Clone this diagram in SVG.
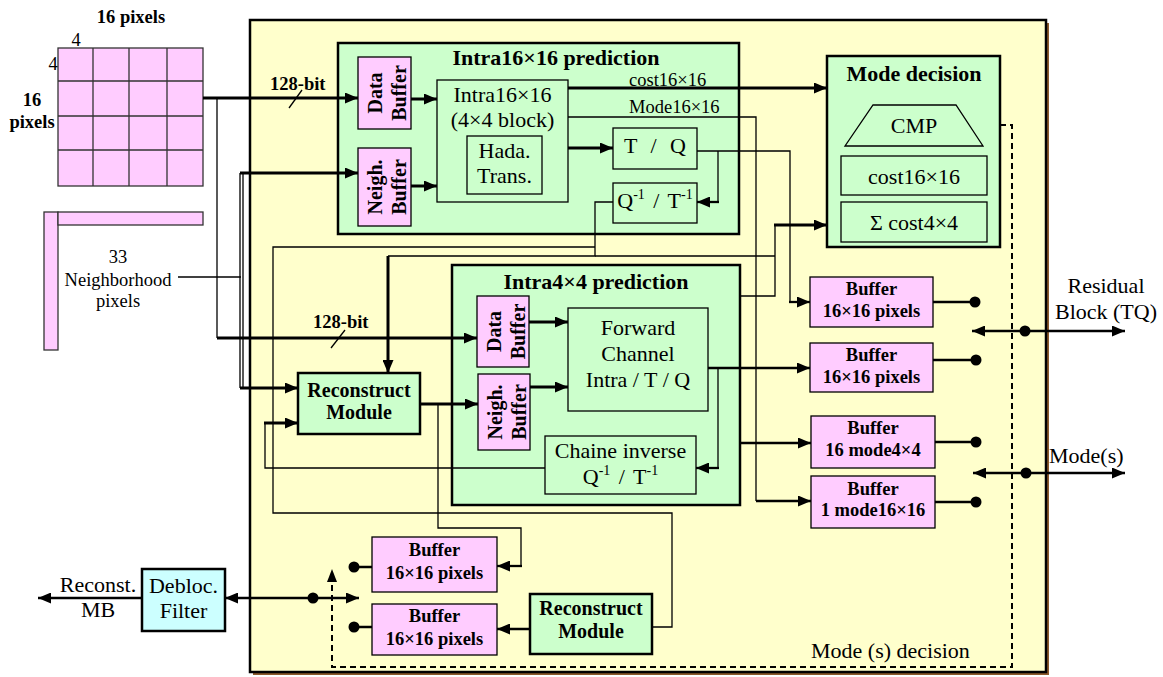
<svg xmlns="http://www.w3.org/2000/svg" width="1163" height="677" viewBox="0 0 1163 677">
<defs>
<style>
text{font-family:"Liberation Serif","Times New Roman",serif;fill:#000}
.r22{font-size:22px}
.b22{font-size:22px;font-weight:bold}
.b20{font-size:20px;font-weight:bold}
.b18{font-size:18.5px;font-weight:bold}
.r18{font-size:18.5px}
.c{text-anchor:middle}
.frame{fill:#ffffcc;stroke:#000;stroke-width:2.5}
.green{fill:#ccffcc;stroke:#000;stroke-width:2.5}
.greenThin{fill:#ccffcc;stroke:#000;stroke-width:1.3}
.pink{fill:#ffccff;stroke:#000;stroke-width:1.3}
.cyan{fill:#ccffff;stroke:#000;stroke-width:2.5}
.grid{fill:#ffccff;stroke:#333;stroke-width:1.3}
.thin{fill:none;stroke:#000;stroke-width:1.3}
.thick{fill:none;stroke:#000;stroke-width:3}
.med{fill:none;stroke:#000;stroke-width:2.3}
.dash{fill:none;stroke:#000;stroke-width:2;stroke-dasharray:6 4}
.arr{marker-end:url(#ah)}
.bi{marker-start:url(#ahs);marker-end:url(#ah)}
</style>
<marker id="ah" markerUnits="userSpaceOnUse" markerWidth="13" markerHeight="11" refX="13" refY="5.5" orient="auto"><path d="M0,0 L13,5.5 L0,11 z" fill="#000"/></marker>
<marker id="ahs" markerUnits="userSpaceOnUse" markerWidth="13" markerHeight="11" refX="13" refY="5.5" orient="auto-start-reverse"><path d="M0,0 L13,5.5 L0,11 z" fill="#000"/></marker>
</defs>

<rect x="0" y="0" width="1163" height="677" fill="#fff"/>

<!-- main frame -->
<g id="frame">
<rect x="253" y="23" width="796" height="652" fill="#8b5a2b"/>
<rect class="frame" x="250" y="20" width="796" height="652"/>
</g>

<!-- 16x16 pixel block -->
<g id="block16">
<rect class="grid" x="58" y="48" width="145" height="138"/>
<path class="grid" fill="none" d="M93,48 V186 M129,48 V186 M167,48 V186 M58,81 H203 M58,116 H203 M58,150 H203"/>
<text class="b18 c" x="131" y="23">16 pixels</text>
<text class="r18 c" x="76" y="46">4</text>
<text class="r18 c" x="53" y="70">4</text>
<text class="b18 c" x="32" y="106">16</text>
<text class="b18 c" x="32" y="128">pixels</text>
</g>

<!-- neighborhood pixels -->
<g id="neighborhood">
<rect class="grid" x="44" y="212" width="14" height="138"/>
<rect class="grid" x="58" y="212" width="145" height="13"/>
<text class="r18 c" x="118" y="263">33</text>
<text class="r18 c" x="118" y="286">Neighborhood</text>
<text class="r18 c" x="118" y="307">pixels</text>
</g>

<!-- Intra16x16 prediction -->
<g id="intra16">
<rect class="green" x="338" y="43" width="401" height="191"/>
<text class="b22 c" x="556" y="65">Intra16×16 prediction</text>
</g>
<g id="intra16-data-buffer">
<rect class="pink" x="358" y="57" width="53" height="72"/>
<text class="b20 c" transform="translate(382,93) rotate(-90)">Data</text>
<text class="b20 c" transform="translate(406,93) rotate(-90)">Buffer</text>
</g>
<g id="intra16-neigh-buffer">
<rect class="pink" x="358" y="148" width="53" height="78"/>
<text class="b20 c" transform="translate(382,187) rotate(-90)">Neigh.</text>
<text class="b20 c" transform="translate(406,187) rotate(-90)">Buffer</text>
</g>
<g id="intra16-core">
<rect class="greenThin" x="437" y="80" width="131" height="122"/>
<text class="r22 c" x="502.5" y="102">Intra16×16</text>
<text class="r22 c" x="502.5" y="127">(4×4 block)</text>
</g>
<g id="hada">
<rect class="greenThin" x="467" y="136" width="75" height="58"/>
<text class="r22 c" x="504.5" y="158">Hada.</text>
<text class="r22 c" x="504.5" y="183">Trans.</text>
</g>
<g id="tq16">
<rect class="greenThin" x="613" y="128" width="84" height="41"/>
<text class="r22 c" x="655" y="153" word-spacing="8">T / Q</text>
</g>
<g id="iqt16">
<rect class="greenThin" x="613" y="183" width="84" height="40"/>
<text class="r22 c" x="655" y="208" word-spacing="3">Q<tspan font-size="14" dy="-9">-1</tspan><tspan dy="9"> / T</tspan><tspan font-size="14" dy="-9">-1</tspan></text>
</g>

<!-- Mode decision -->
<g id="mode-decision">
<rect class="green" x="827" y="56" width="173" height="191"/>
<text class="b22 c" x="914" y="81">Mode decision</text>
<path class="greenThin" d="M873,105 H956 L983,146 H845 Z"/>
<text class="r22 c" x="914" y="133">CMP</text>
<rect class="greenThin" x="841" y="156" width="146" height="39"/>
<text class="r22 c" x="914" y="184">cost16×16</text>
<rect class="greenThin" x="841" y="202" width="146" height="40"/>
<text class="r22 c" x="914" y="230">Σ cost4×4</text>
</g>

<!-- Intra4x4 prediction -->
<g id="intra4">
<rect class="green" x="452" y="265" width="288" height="240"/>
<text class="b22 c" x="596" y="289">Intra4×4 prediction</text>
</g>
<g id="intra4-data-buffer">
<rect class="pink" x="477" y="296" width="52" height="71"/>
<text class="b20 c" transform="translate(501,331.5) rotate(-90)">Data</text>
<text class="b20 c" transform="translate(525,331.5) rotate(-90)">Buffer</text>
</g>
<g id="intra4-neigh-buffer">
<rect class="pink" x="478" y="374" width="52" height="76"/>
<text class="b20 c" transform="translate(502,412) rotate(-90)">Neigh.</text>
<text class="b20 c" transform="translate(526,412) rotate(-90)">Buffer</text>
</g>
<g id="forward-channel">
<rect class="greenThin" x="568" y="308" width="140" height="103"/>
<text class="r22 c" x="638" y="335">Forward</text>
<text class="r22 c" x="638" y="361">Channel</text>
<text class="r22 c" x="638" y="387">Intra / T / Q</text>
</g>
<g id="chaine-inverse">
<rect class="greenThin" x="545" y="436" width="151" height="58"/>
<text class="r22 c" x="620.5" y="458">Chaine inverse</text>
<text class="r22 c" x="620.5" y="484" word-spacing="3">Q<tspan font-size="14" dy="-9">-1</tspan><tspan dy="9"> / T</tspan><tspan font-size="14" dy="-9">-1</tspan></text>
</g>

<!-- Reconstruct modules -->
<g id="reconstruct-1">
<rect class="green" x="298" y="373" width="122" height="61"/>
<text class="b20 c" x="359" y="397">Reconstruct</text>
<text class="b20 c" x="359" y="419">Module</text>
</g>
<g id="reconstruct-2">
<rect class="green" x="530" y="594" width="122" height="60"/>
<text class="b20 c" x="591" y="615">Reconstruct</text>
<text class="b20 c" x="591" y="638">Module</text>
</g>

<!-- Right buffers -->
<g id="buffer-res-16">
<rect class="pink" x="810" y="277" width="123" height="50"/>
<text class="b18 c" x="871.5" y="295">Buffer</text>
<text class="b18 c" x="871.5" y="317">16×16 pixels</text>
</g>
<g id="buffer-res-4">
<rect class="pink" x="810" y="343" width="123" height="49"/>
<text class="b18 c" x="871.5" y="361">Buffer</text>
<text class="b18 c" x="871.5" y="383">16×16 pixels</text>
</g>
<g id="buffer-mode4">
<rect class="pink" x="811" y="416" width="124" height="52"/>
<text class="b18 c" x="873" y="434">Buffer</text>
<text class="b18 c" x="873" y="456">16 mode4×4</text>
</g>
<g id="buffer-mode16">
<rect class="pink" x="811" y="476" width="124" height="52"/>
<text class="b18 c" x="873" y="495">Buffer</text>
<text class="b18 c" x="873" y="516">1 mode16×16</text>
</g>

<!-- Bottom buffers -->
<g id="buffer-rec-1">
<rect class="pink" x="372" y="537" width="125" height="55"/>
<text class="b18 c" x="434.5" y="556">Buffer</text>
<text class="b18 c" x="434.5" y="579">16×16 pixels</text>
</g>
<g id="buffer-rec-2">
<rect class="pink" x="372" y="604" width="125" height="51"/>
<text class="b18 c" x="434.5" y="622">Buffer</text>
<text class="b18 c" x="434.5" y="645">16×16 pixels</text>
</g>

<!-- Deblocking filter -->
<g id="debloc">
<rect class="cyan" x="142" y="569" width="83" height="62"/>
<text class="r22 c" x="183.5" y="593">Debloc.</text>
<text class="r22 c" x="183.5" y="618">Filter</text>
</g>

<!-- connectors -->
<g id="connectors">
<path class="thick arr" d="M203,98 H358"/>
<path class="thin" d="M217,98 V338"/>
<path class="thick arr" d="M217,338 H477"/>
<path class="thin" d="M289,108 L302,90"/>
<path class="thin" d="M331,348 L345,330"/>
<text class="b18" x="270" y="90">128-bit</text>
<text class="b18" x="313" y="328">128-bit</text>

<path class="thin" d="M178,277 H241"/>
<path class="thin" d="M240,173 V388 M243,173 V388"/>
<path class="thick arr" d="M240,173 H358"/>
<path class="thick arr" d="M240,388 H298"/>

<path class="thick arr" d="M411,99 H437"/>
<path class="thick arr" d="M411,186 H437"/>
<path class="thick arr" d="M568,148 H613"/>
<path class="thick arr" d="M568,88 H827"/>
<text class="r18" x="629" y="86">cost16×16</text>
<path class="thin" d="M568,117 H756 V501"/>
<path class="med arr" d="M756,501 H811"/>
<text class="r18" x="629" y="113">Mode16×16</text>
<path class="thin" d="M697,151 H790 V302"/>
<path class="med arr" d="M789,302 H810"/>
<path class="thin" d="M718,151 V202"/>
<path class="med arr" d="M719,202 H697"/>

<path class="thin" d="M613,202 H595 V256 H388"/>
<path class="thin" d="M595,256 H775"/>
<path class="thick arr" d="M388,256 V373"/>
<path class="thin" d="M595,247 H273 V513 H672 V627 H652"/>

<path class="thin" d="M739,296 H775 V225"/>
<path class="thick arr" d="M774,225 H827"/>
<path class="thick arr" d="M529,322 H568"/>
<path class="thick arr" d="M530,387 H568"/>
<path class="med arr" d="M708,368 H810"/>
<path class="thin" d="M718,368 V468"/>
<path class="med arr" d="M719,468 H696"/>
<path class="med arr" d="M739,443 H811"/>

<path class="thin" d="M545,468 H265 V423"/>
<path class="thick arr" d="M264,423 H298"/>

<path class="thick arr" d="M420,404 H478"/>
<path class="thin" d="M438,404 V528 H521 V566"/>
<path class="med arr" d="M522,566 H497"/>
<path class="med arr" d="M530,629 H497"/>

<path class="med" d="M933,302 H975 M933,360 H976 M935,442 H976 M935,502 H976"/>
<circle cx="975" cy="302" r="5.5"/>
<circle cx="976" cy="360" r="5.5"/>
<circle cx="976" cy="442" r="5.5"/>
<circle cx="976" cy="502" r="5.5"/>
<path class="med bi" d="M972,331 H1125"/>
<circle cx="1025" cy="331" r="5.5"/>
<path class="med bi" d="M973,473 H1125"/>
<circle cx="1026" cy="473" r="5.5"/>
<text class="r22 c" x="1106" y="293">Residual</text>
<text class="r22 c" x="1106" y="319">Block (TQ)</text>
<text class="r22" x="1049" y="463">Mode(s)</text>

<path class="med" d="M372,567 H354 M372,627 H354"/>
<circle cx="354" cy="567" r="5.5"/>
<circle cx="354" cy="627" r="5.5"/>
<path class="med bi" d="M225,598 H359"/>
<circle cx="313" cy="598" r="5.5"/>
<path class="med arr" d="M142,598 H38"/>
<text class="r22 c" x="98" y="592">Reconst.</text>
<text class="r22 c" x="98" y="617">MB</text>

<path class="dash" d="M1000,125 H1012 V667 H332 V582"/>
<path d="M332,569 L327,582 L337,582 Z" fill="#000"/>
<text class="r22" x="811" y="658">Mode (s) decision</text>
</g>
</svg>
